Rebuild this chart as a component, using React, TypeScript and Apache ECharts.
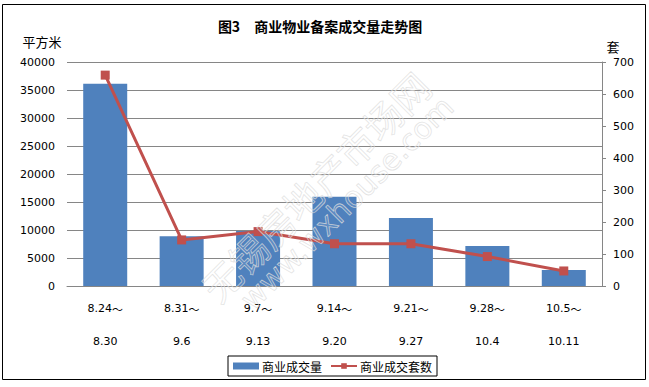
import React, { useEffect, useRef } from "react";
import * as echarts from "echarts";

const categories = ["8.24～\n8.30", "8.31～\n9.6", "9.7～\n9.13", "9.14～\n9.20", "9.21～\n9.27", "9.28～\n10.4", "10.5～\n10.11"];
const areaValues = [36100, 8900, 9800, 15950, 12150, 7150, 2850];
const unitValues = [659, 144, 170, 132, 132, 92, 47];
const barName = "商业成交量";
const lineName = "商业成交套数";
const titleText = "图3　商业物业备案成交量走势图";

export default function App() {
  const ref = useRef<HTMLDivElement>(null);
  useEffect(() => {
    const chart = echarts.init(ref.current!, null, { renderer: "svg" });
    const axisFont = { fontFamily: "DejaVu Sans", fontSize: 11, color: "#000" };
    chart.setOption({
      animation: false,
      backgroundColor: "#fff",
      grid: { left: 67, right: 47, top: 62, bottom: 101 },
      legend: {
        left: 228,
        top: 356,
        orient: "horizontal",
        itemWidth: 26,
        itemHeight: 7,
        itemGap: 8,
        padding: [4, 5, 4, 5],
        borderColor: "#000",
        borderWidth: 1,
        textStyle: { fontFamily: "Noto Sans CJK SC", fontSize: 12, color: "#000", padding: [0, 0, 0, -2] },
        data: [
          { name: barName, icon: "rect" },
          { name: lineName },
        ],
      },
      xAxis: {
        type: "category",
        data: categories,
        axisLine: { show: true, lineStyle: { color: "#868686", width: 1 } },
        axisTick: { show: false },
        axisLabel: {
          ...axisFont,
          lineHeight: 33,
          margin: 6,
          interval: 0,
          formatter: (v: string) => v.replace("～", "{t|～}"),
          rich: {
            t: { fontFamily: "Noto Sans CJK SC", fontSize: 11, color: "#000", lineHeight: 33 },
          },
        },
      },
      yAxis: [
        {
          type: "value",
          min: 0,
          max: 40000,
          interval: 5000,
          axisLine: { show: false },
          axisTick: { show: false },
          splitLine: { show: true, lineStyle: { color: "#868686", width: 1 } },
          axisLabel: { ...axisFont, margin: 12, formatter: (v: number) => String(v) },
        },
        {
          type: "value",
          min: 0,
          max: 700,
          interval: 100,
          position: "right",
          axisLine: { show: true, lineStyle: { color: "#868686", width: 1 } },
          axisTick: { show: true, length: 4, lineStyle: { color: "#868686" } },
          splitLine: { show: false },
          axisLabel: { ...axisFont, margin: 11, formatter: (v: number) => String(v) },
        },
      ],
      series: [
        {
          name: barName,
          type: "bar",
          data: areaValues,
          barWidth: 44,
          itemStyle: { color: "#4F81BD" },
          yAxisIndex: 0,
        },
        {
          name: lineName,
          type: "line",
          data: unitValues,
          yAxisIndex: 1,
          symbol: "rect",
          symbolSize: 9,
          lineStyle: { color: "#C0504D", width: 3 },
          itemStyle: { color: "#C0504D" },
        },
      ],
      graphic: [
        {
          type: "rect",
          shape: { x: 2.5, y: 4.5, width: 643, height: 375 },
          style: { fill: "none", stroke: "#000", lineWidth: 1 },
          silent: true,
          z: 0,
        },
        {
          type: "text",
          x: 320,
          y: 26,
          style: {
            text: titleText,
            fontFamily: "Noto Sans CJK SC",
            fontWeight: "bold",
            fontSize: 14,
            fill: "#000",
            align: "center",
            verticalAlign: "middle",
          },
        },
        {
          type: "text",
          x: 42,
          y: 41,
          style: { text: "平方米", fontFamily: "Noto Sans CJK SC", fontSize: 13, fill: "#000", align: "center", verticalAlign: "middle" },
        },
        {
          type: "text",
          x: 613,
          y: 46,
          style: { text: "套", fontFamily: "Noto Sans CJK SC", fontSize: 13, fill: "#000", align: "center", verticalAlign: "middle" },
        },
        {
          type: "text",
          x: 315,
          y: 186,
          rotation: Math.PI / 4,
          z: 100,
          silent: true,
          style: {
            text: "无锡房地产市场网",
            fontFamily: "Noto Sans CJK SC",
            fontSize: 38,
            fill: "rgba(255,255,255,0.1)",
            stroke: "rgba(220,220,220,0.8)",
            lineWidth: 0.8,
            align: "center",
            verticalAlign: "middle",
          },
        },
        {
          type: "text",
          x: 347,
          y: 203,
          rotation: Math.PI / 4,
          z: 100,
          silent: true,
          style: {
            text: "www.wxhouse.com",
            fontFamily: "DejaVu Sans",
            fontSize: 30,
            fill: "rgba(255,255,255,0.1)",
            stroke: "rgba(220,220,220,0.8)",
            lineWidth: 0.8,
            align: "center",
            verticalAlign: "middle",
          },
        },
      ],
    });
    return () => chart.dispose();
  }, []);
  return <div ref={ref} style={{ position: "absolute", left: 0, top: 0, width: 649, height: 387 }} />;
}
